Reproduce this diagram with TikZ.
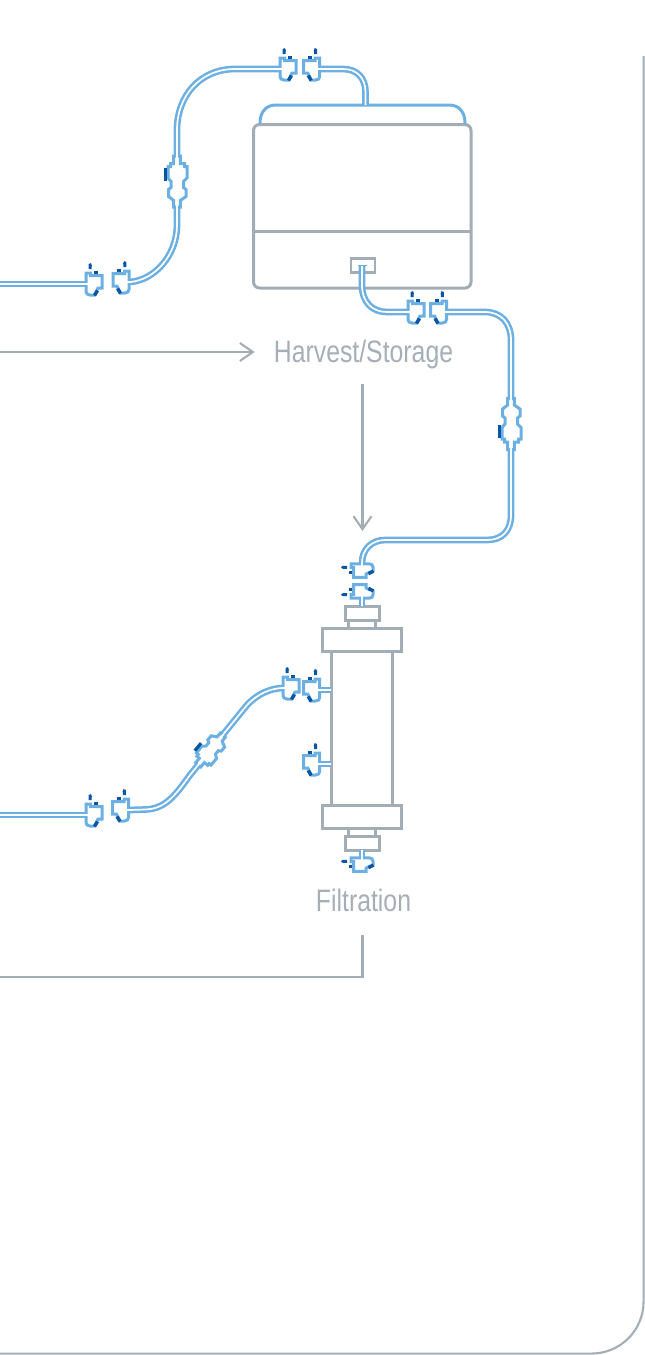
\documentclass[tikz,border=0pt]{standalone}
\usepackage{fontspec}
\usetikzlibrary{arrows.meta}
\newfontfamily\labfont[FakeStretch=0.8]{Liberation Sans}
\definecolor{tubeblue}{HTML}{6CB0E3}
\definecolor{darkblue}{HTML}{0B55A5}
\definecolor{frame}{HTML}{A3ADB5}
\definecolor{labgrey}{HTML}{A6AFB7}
\tikzset{
  tube/.style={draw=tubeblue,line width=2.5pt,double=white,double distance=1.7pt},
  solidblue/.style={draw=tubeblue,line width=3pt,line cap=round},
  partline/.style={draw=frame,line width=3pt},
  flowline/.style={draw=frame,line width=2.1pt},
  flowarrow/.style={flowline,-{Straight Barb[length=13pt,width=18pt,line width=2.1pt]}},
  clampbody/.style={draw=tubeblue,fill=white,line width=3pt,line join=miter},
  darkbit/.style={draw=darkblue,line width=3pt},
  lab/.style={font=\labfont\fontsize{31}{31}\selectfont,text=labgrey,anchor=base,text height=23pt,text depth=0pt,inner xsep=19pt},
  oLR/.style={x={(1pt,0pt)},y={(0pt,-1pt)}},
  oRL/.style={x={(-1pt,0pt)},y={(0pt,-1pt)}},
  oTD/.style={x={(0pt,-.85pt)},y={(1pt,0pt)}},
  oBU/.style={x={(0pt,.85pt)},y={(1pt,0pt)}},
  fUp/.style={x={(1pt,0pt)},y={(0pt,-1pt)}},
  fFlip/.style={x={(1pt,0pt)},y={(0pt,1pt)}},
  fDiag/.style={x={(.77pt,-.64pt)},y={(.48pt,.58pt)}},
}
% #1 named coordinate, #2 orientation style
\newcommand{\clampat}[2]{%
  \begin{scope}[shift={(#1)},#2]
    \path[clampbody] (1,-11) -- (5.5,-11) -- (5.5,-8.5) -- (17,-8.5) -- (17,4) -- (13,4) -- (9.5,11)
       -- (5,11) .. controls (2.5,11) and (1,9.5) .. (1,7.5) -- cycle;
    \draw[white,line width=1.7pt] (-1.5,0) -- (5,0);
    \draw[darkbit] (6.5,-19.5) -- (5.2,-19) -- (5.2,-15);
    \draw[darkbit,line width=3.2pt] (9,-11.5) -- (13,-11.5);
    \draw[darkbit,line width=3.4pt] (9.5,11.5) -- (12.5,6.5);
  \end{scope}}
% #1 named coordinate, #2 orientation style
\newcommand{\inlineat}[2]{%
  \begin{scope}[shift={(#1)},#2]
    \path[clampbody] (3.3,-25.5) -- (3.3,-18) -- (7.5,-18) -- (7.5,-15) -- (10,-15) -- (10,-3.5) -- (6.5,0) -- (6.5,6)
      -- (9,8) -- (9,15) -- (3.3,19) -- (3.3,25.5) -- (-3.3,25.5) -- (-3.3,19) -- (-8.5,15)
      -- (-8.5,8) -- (-6,6) -- (-6,0) -- (-9,-3.5) -- (-9,-15) -- (-6.5,-15) -- (-6.5,-18) -- (-3.3,-18) -- (-3.3,-25.5) -- cycle;
    \draw[white,line width=1.7pt] (0,-27.5) -- (0,-22);
    \draw[white,line width=1.7pt] (0,27.5) -- (0,22);
    \draw[darkbit,line width=3.2pt] (-11.6,-14) -- (-11.6,-1);
  \end{scope}}
\begin{document}
\begin{tikzpicture}[x=1pt,y=-1pt]
\useasboundingbox (0,0) rectangle (645,1355);
% anchor points
\coordinate (a1) at (279,69);
\coordinate (a2) at (320.7,69);
\coordinate (b1) at (85,284);
\coordinate (b2) at (130,282);
\coordinate (c1) at (407,312);
\coordinate (c2) at (447.5,312);
\coordinate (d1) at (362,563);
\coordinate (d2) at (362,599);
\coordinate (e1) at (282,688);
\coordinate (e2) at (320.7,690);
\coordinate (e3) at (320.7,764);
\coordinate (e4) at (362,857);
\coordinate (g1) at (85,815);
\coordinate (g2) at (129.5,810);
\coordinate (f1) at (177,181.5);
\coordinate (f2) at (511,424);
\coordinate (f3) at (210.5,750);
\coordinate (bagtop) at (365.5,105);
\coordinate (port) at (362,265.5);
\coordinate (captop) at (362,606);
\coordinate (capbot) at (362,850);
\coordinate (colL1) at (331.3,690);
\coordinate (colL2) at (331.3,764);
% frame
\draw[frame,line width=2.1pt] (643.6,56) -- (643.6,1301) .. controls (643.6,1331) and (620,1353.6) .. (591,1353.6) -- (0,1353.6);
% bag
\draw[partline,rounded corners=6pt] (253.5,124.5) rectangle (471,288);
\node[draw=frame,line width=2.8pt,minimum width=24pt,minimum height=14pt,inner sep=0pt] (portbox) at (363,265.5) {};
\draw[partline] (253.5,231) -- (471,231);
\draw[solidblue] (260,123) .. controls (260,112) and (266,105) .. (276,105) -- (449,105) .. controls (459,105) and (465,112) .. (465,123);
% column
\draw[partline] (331.3,651) -- (331.3,806) (392.3,651) -- (392.3,806);
\node[draw=frame,line width=2.5pt,fill=white,minimum width=79pt,minimum height=23pt,inner sep=0pt] (flangeT) at (362,640) {};
\node[draw=frame,line width=2.5pt,fill=white,minimum width=79pt,minimum height=23pt,inner sep=0pt] (flangeB) at (362,817) {};
\draw[frame,line width=2.7pt] (348.5,620) -- (348.5,628) (375.5,620) -- (375.5,628) (348.5,829) -- (348.5,836) (375.5,829) -- (375.5,836);
\node[draw=frame,line width=3pt,fill=white,minimum width=34pt,minimum height=14pt,inner sep=0pt] (capT) at (362,613) {};
\node[draw=frame,line width=3pt,fill=white,minimum width=34pt,minimum height=14pt,inner sep=0pt] (capB) at (362,843) {};
% tubes
\draw[tube] (a1) -- (235,69) .. controls (200,69) and (177,96) .. (177,130) -- (f1) -- (177,225) .. controls (177,255) and (155,280) .. (b2);
\draw[tube] (a2) -- (343,69) .. controls (357,69) and (365.5,78) .. (365.5,92) -- (bagtop);
\draw[tube] (0,284) -- (b1);
\draw[tube] (port) -- (362,285) .. controls (362,302) and (372,312) .. (387,312) -- (c1);
\draw[tube] (c2) -- (485,312) .. controls (501,312) and (511,323) .. (511,340) -- (f2) -- (511,515) .. controls (511,531) and (502,540) .. (487,540) -- (385,540) .. controls (372,540) and (362,549) .. (d1);
\draw[tube] (d2) -- (captop);
\draw[tube] (capbot) -- (e4);
\draw[tube] (e2) -- (colL1);
\draw[tube] (e3) -- (colL2);
\draw[tube] (0,815) -- (g1);
\draw[tube] (g2) -- (145,809.5) .. controls (165,809) and (175,796) .. (190,775) -- (f3) -- (243,710) .. controls (252,698) and (265,689) .. (e1);
\draw[tubeblue,line width=1.8pt] (357.5,265.5) -- (366.5,265.5);
% clamps
\clampat{a1}{oLR}\clampat{a2}{oRL}
\clampat{b1}{oLR}\clampat{b2}{oRL}
\clampat{c1}{oLR}\clampat{c2}{oRL}
\clampat{d1}{oTD}\clampat{d2}{oBU}
\clampat{e1}{oLR}\clampat{e2}{oRL}\clampat{e3}{oRL}
\clampat{e4}{oTD}
\clampat{g1}{oLR}\clampat{g2}{oRL}
\inlineat{f1}{fUp}\inlineat{f2}{fFlip}\inlineat{f3}{fDiag}
% labels and flows
\node[lab,inner ysep=22pt] (harvest) at (363.5,362) {Harvest/Storage};
\node[lab,inner ysep=24pt] (filtration) at (363.5,911) {Filtration};
\coordinate (inL) at (0,352);
\coordinate (outL) at (0,977);
\coordinate (filtIn) at (362.5,531);
\coordinate (filtCorner) at (362.5,977);
\draw[flowarrow] (inL) -- (inL -| harvest.west);
\draw[flowarrow] (harvest.south -| filtIn) -- (filtIn);
\draw[flowline] (filtration.south -| filtCorner) -- (filtCorner) -- (outL);
\end{tikzpicture}
\end{document}
